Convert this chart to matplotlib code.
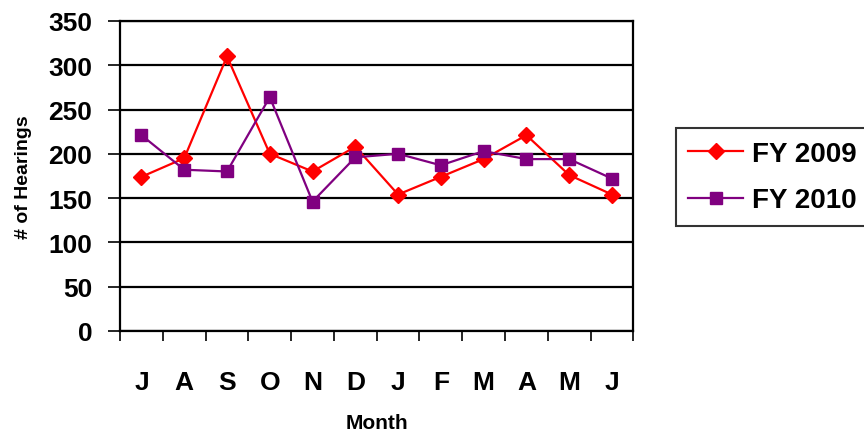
import matplotlib.pyplot as plt
import numpy as np

plt.rcParams['font.family'] = ['Liberation Sans', 'DejaVu Sans']
plt.rcParams['font.weight'] = 'bold'

# Monthly hearing counts, July through June
months = ['J', 'A', 'S', 'O', 'N', 'D', 'J', 'F', 'M', 'A', 'M', 'J']
fy2009 = [174, 195, 310, 200, 180, 208, 154, 174, 194, 221, 176, 154]
fy2010 = [221, 182, 180, 264, 146, 196, 200, 187, 203, 194, 194, 172]

fig = plt.figure(figsize=(8.64, 4.39), dpi=100)
ax = fig.add_axes([0.139, 0.244, 0.594, 0.706])

x = np.arange(len(months))
ax.plot(x, fy2009, color='#ff0000', lw=1.6, marker='D', ms=8,
        mec='#ff0000', label='FY 2009')
ax.plot(x, fy2010, color='#800080', lw=1.6, marker='s', ms=8,
        mec='#800080', label='FY 2010')

ax.set_xlim(-0.5, 11.5)
ax.set_ylim(0, 350)
ax.set_yticks(range(0, 351, 50))
ax.yaxis.grid(True, color='black', lw=1.6)
ax.set_axisbelow(True)

# category ticks sit on the boundaries, labels in the middle
ax.set_xticks(np.arange(-0.5, 12, 1))
ax.set_xticklabels([])
ax.set_xticks(x, minor=True)
ax.set_xticklabels(months, minor=True, fontsize=19, fontweight='bold')
ax.tick_params(axis='x', which='minor', length=0, pad=28)
ax.tick_params(axis='x', which='major', length=7, width=1.2, direction='out')
ax.tick_params(axis='y', length=9, width=1.2, labelsize=19, pad=11)
for lbl in ax.get_yticklabels():
    lbl.set_fontweight('bold')

for s in ax.spines.values():
    s.set_linewidth(1.6)
    s.set_color('black')

ax.set_xlabel('Month', fontsize=15, fontweight='bold', labelpad=14)
ax.set_ylabel('# of Hearings', fontsize=14, fontweight='bold', labelpad=12)

leg = fig.legend(loc='upper left', bbox_to_anchor=(0.7824, 0.706),
                 borderaxespad=0, fontsize=20, frameon=True, fancybox=False,
                 edgecolor='black', handlelength=1.95, borderpad=0.45,
                 labelspacing=0.75, handletextpad=0.33)
leg.get_frame().set_linewidth(1.5)
for t in leg.get_texts():
    t.set_fontweight('bold')

fig.savefig('out.png', dpi=100)
